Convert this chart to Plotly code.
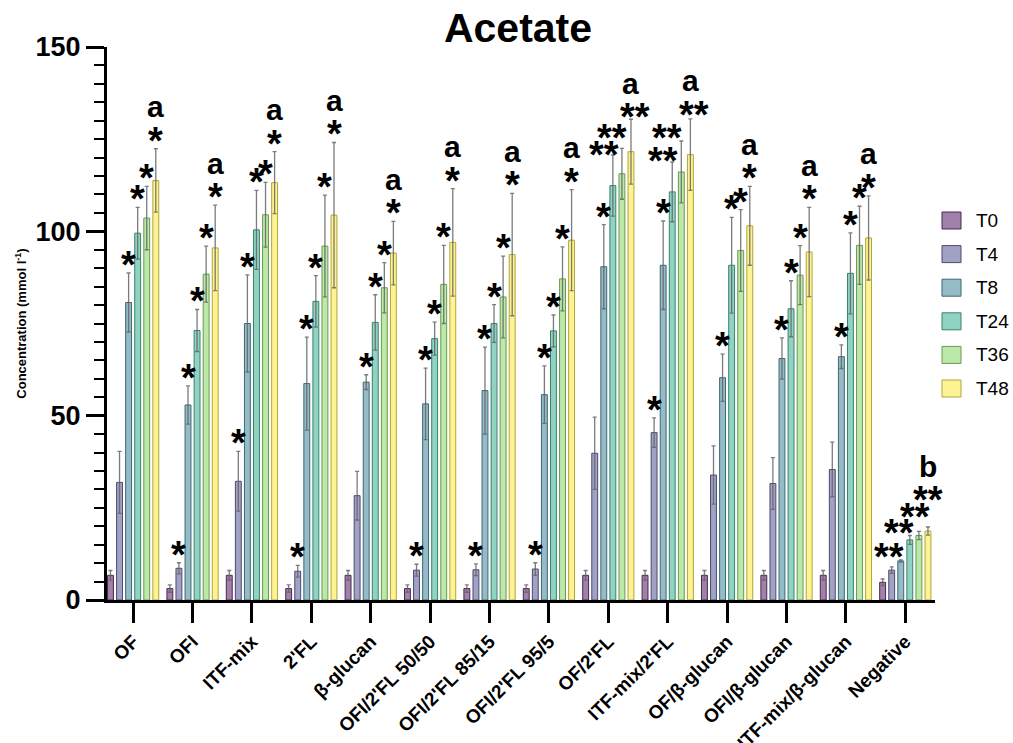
import plotly.graph_objects as go

# ---------------- data ----------------
categories = ["OF", "OFI", "ITF-mix", "2'FL", "β-glucan", "OFI/2'FL 50/50",
              "OFI/2'FL 85/15", "OFI/2'FL 95/5", "OF/2'FL", "ITF-mix/2'FL",
              "OF/β-glucan", "OFI/β-glucan", "ITF-mix/β-glucan", "Negative"]
series_names = ["T0", "T4", "T8", "T24", "T36", "T48"]

T0 = [6.7, 3.1, 6.7, 3.1, 6.7, 3.1, 3.1, 3.1, 6.7, 6.7, 6.7, 6.7, 6.7, 4.8]
T0_err = [1.3, 1.0, 1.3, 1.0, 1.3, 1.0, 1.0, 1.0, 1.3, 1.3, 1.3, 1.3, 1.3, 0.9]
T4 = [31.9, 8.6, 32.2, 7.8, 28.3, 8.1, 8.2, 8.4, 39.8, 45.4, 33.9, 31.6, 35.4, 8.1]
T4_err = [8.4, 1.5, 8.1, 1.6, 6.6, 1.6, 1.6, 1.7, 9.8, 4.0, 7.9, 7.0, 7.4, 0.9]
T8 = [80.7, 52.9, 75.0, 58.7, 59.1, 53.2, 56.8, 55.7, 90.4, 90.8, 60.3, 65.5, 66.0, 10.6]
T8_err = [8.0, 5.2, 13.2, 12.6, 2.0, 9.7, 11.8, 7.8, 11.4, 12.0, 6.4, 5.6, 3.2, 0.3]
T24 = [99.5, 73.1, 100.4, 81.0, 75.3, 70.9, 75.0, 73.0, 112.4, 110.7, 90.8, 79.0, 88.6, 16.3]
T24_err = [7.0, 5.7, 10.7, 7.0, 7.5, 4.5, 5.1, 4.3, 8.3, 8.1, 13.0, 7.6, 11.0, 1.2]
T36 = [103.6, 88.4, 104.5, 96.0, 84.7, 85.6, 82.2, 87.1, 115.6, 116.1, 94.8, 88.1, 96.2, 17.5]
T36_err = [8.6, 7.6, 8.8, 13.8, 6.8, 10.6, 11.1, 8.7, 6.9, 8.4, 11.1, 8.0, 10.6, 1.1]
T48 = [113.8, 95.5, 113.2, 104.4, 94.1, 97.0, 93.7, 97.6, 121.6, 120.8, 101.5, 94.4, 98.2, 18.7]
T48_err = [8.6, 11.6, 8.4, 19.7, 8.6, 14.6, 16.6, 13.7, 8.8, 9.7, 10.7, 12.1, 11.4, 1.1]

# significance labels per bar
stars_T0 = [""] * 14
stars_T4 = ["", "*", "*", "*", "", "*", "*", "*", "", "*", "", "", "", ""]
stars_T8 = ["*", "*", "*", "*", "*", "*", "*", "*", "*", "*", "*", "*", "*", "**"]
stars_T24 = ["*", "*", "*", "*", "*", "*", "*", "*", "**", "**", "*", "*", "*", "**"]
stars_T36 = ["*", "*", "*", "*", "*", "*", "*", "*", "**", "**", "*", "*", "*", "**"]
stars_T48 = ["*", "*", "*", "*", "*", "*", "*", "*", "**", "**", "*", "*", "*", "**"]
group_letters = ["a"] * 13 + ["b"]

values = [T0, T4, T8, T24, T36, T48]
errors = [T0_err, T4_err, T8_err, T24_err, T36_err, T48_err]
stars = [stars_T0, stars_T4, stars_T8, stars_T24, stars_T36, stars_T48]

# ---------------- style ----------------
palette = [(68, 1, 84), (65, 68, 135), (42, 120, 142), (34, 168, 132), (122, 209, 81), (253, 231, 37)]
FONT = "Arial, Liberation Sans, sans-serif"
BARGAP = 0.084
W, H = 1013, 743
ML, MR, MT, MB = 107, 78, 47, 143
PW, PH = W - ML - MR, H - MT - MB

# pixel offsets (dx, glyph-centre height above error bar) for crowded labels
label_offsets = {
    ("OF/2'FL", "T24"): (-9, 8), ("OF/2'FL", "T36"): (-10, 18), ("OF/2'FL", "T48"): (4, 10),
    ("ITF-mix/2'FL", "T24"): (-9, 9), ("ITF-mix/2'FL", "T36"): (-14, 11), ("ITF-mix/2'FL", "T48"): (4, 12),
    ("Negative", "T8"): (-12, 11), ("Negative", "T24"): (-11, 10), ("Negative", "T36"): (-4, 22),
    ("Negative", "T48"): (0, 35),
}
DEFAULT_STAR = (0, 16)
STAR_SIZE = 38
LETTER_SIZE = 30


def edge_color(rgb):
    r, g, b = rgb
    return f"rgb({int(r*0.55+85*0.45)},{int(g*0.55+85*0.45)},{int(b*0.55+85*0.45)})"


fig = go.Figure()
for j, name in enumerate(series_names):
    r, g, b = palette[j]
    fig.add_trace(go.Bar(
        name=name, x=categories, y=values[j],
        marker=dict(color=f"rgba({r},{g},{b},0.5)", line=dict(color=edge_color(palette[j]), width=1)),
        error_y=dict(type="data", array=errors[j], visible=True,
                     color="rgba(100,100,100,0.85)", thickness=1.3, width=2),
        showlegend=False,
    ))

slot = (1 - BARGAP) / 6
annotations = []
for j, name in enumerate(series_names):
    for i, cat in enumerate(categories):
        txt = stars[j][i]
        if not txt:
            continue
        dx, up = label_offsets.get((cat, name), DEFAULT_STAR)
        annotations.append(dict(
            x=i + (j - 2.5) * slot, y=values[j][i] + errors[j][i], xref="x", yref="y",
            text=txt, showarrow=False, xanchor="center", yanchor="middle",
            xshift=dx, yshift=up - 8,
            font=dict(family=FONT, size=STAR_SIZE, color="black", weight="bold"),
        ))

for i, cat in enumerate(categories):
    _, up = label_offsets.get((cat, "T48"), DEFAULT_STAR)
    annotations.append(dict(
        x=i + 2.5 * slot, y=T48[i] + T48_err[i], xref="x", yref="y",
        text=group_letters[i], showarrow=False, xanchor="center", yanchor="middle",
        yshift=up + 26,
        font=dict(family=FONT, size=LETTER_SIZE, color="black", weight="bold"),
    ))

# manual legend
shapes = []
for k, name in enumerate(series_names):
    r, g, b = palette[k]
    top = 212 + 33.6 * k
    x0, x1, y0, y1 = 942, 961, top, top + 17
    shapes.append(dict(
        type="rect", xref="paper", yref="paper",
        x0=(x0 - ML) / PW, x1=(x1 - ML) / PW,
        y0=(H - MB - y1) / PH, y1=(H - MB - y0) / PH,
        fillcolor=f"rgba({r},{g},{b},0.5)",
        line=dict(color=edge_color(palette[k]), width=1),
    ))
    annotations.append(dict(
        x=(974 - ML) / PW, y=(H - MB - (top + 8.5)) / PH, xref="paper", yref="paper",
        text=name, showarrow=False, xanchor="left", yanchor="middle",
        font=dict(family=FONT, size=19, color="black"),
    ))

fig.update_layout(
    width=W, height=H,
    margin=dict(l=ML, r=MR, t=MT, b=MB, autoexpand=False),
    paper_bgcolor="white", plot_bgcolor="white",
    barmode="group", bargap=BARGAP, bargroupgap=0.35,
    title=dict(text="Acetate", x=518 / W, xanchor="center", y=1 - 28 / H, yanchor="middle",
               yref="container", font=dict(family=FONT, size=41, color="black", weight="bold")),
    font=dict(family=FONT, color="black"),
    annotations=annotations, shapes=shapes,
    showlegend=False,
)
fig.update_xaxes(
    type="category", range=[-0.44, 13.5], showline=True, linewidth=3, linecolor="black",
    ticks="outside", ticklen=20, tickwidth=3, tickcolor="black", tickangle=-45,
    tickfont=dict(family=FONT, size=19, color="black", weight="bold"),
    showgrid=False, zeroline=False,
)
fig.update_yaxes(
    range=[0, 150], tickvals=[0, 50, 100, 150], showline=True, linewidth=3, linecolor="black",
    ticks="outside", ticklen=18, tickwidth=3, tickcolor="black",
    minor=dict(ticks="outside", dtick=5, tick0=0, ticklen=10, tickwidth=2, tickcolor="black"),
    tickfont=dict(family=FONT, size=27, color="black", weight="bold"),
    showgrid=False, zeroline=False,
    title=dict(text="Concentration (mmol l<sup>-1</sup>)", standoff=6,
               font=dict(family=FONT, size=13, color="black", weight="bold")),
)

fig.write_html("out.html", config={"displayModeBar": False},
               post_script="document.body.style.margin='0';document.body.style.overflow='hidden';")
